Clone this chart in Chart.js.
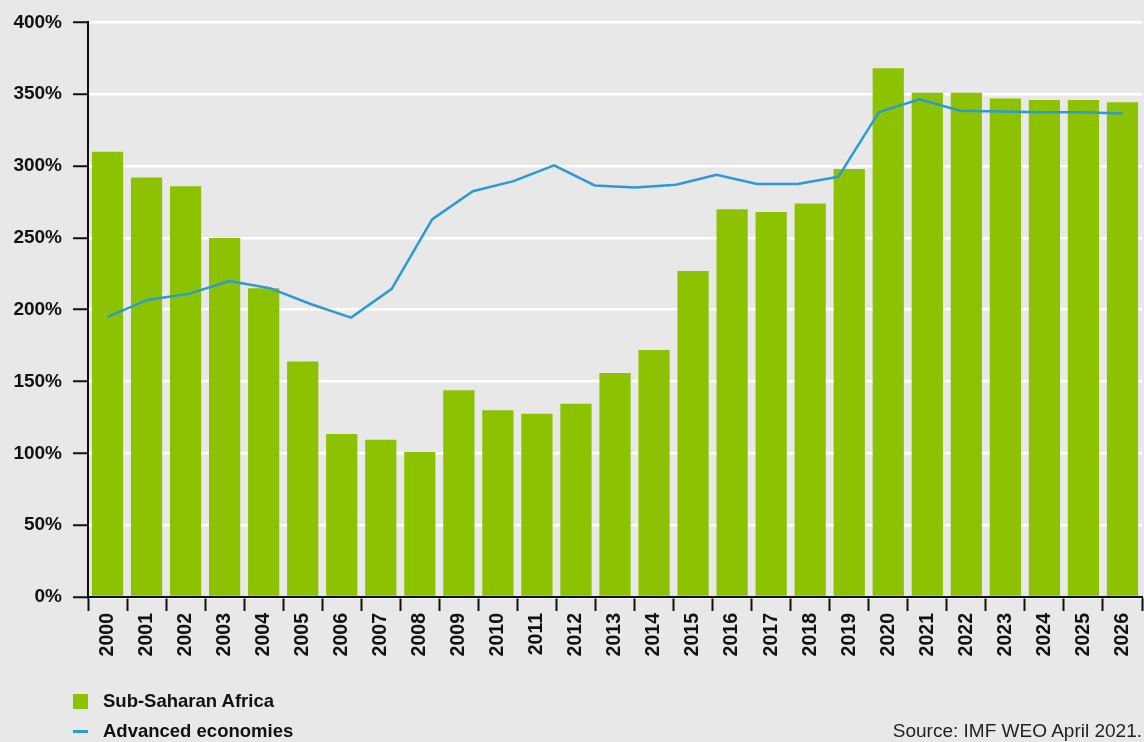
<!DOCTYPE html>
<html>
<head>
<meta charset="utf-8">
<script src="https://cdn.jsdelivr.net/npm/chart.js@4/dist/chart.umd.min.js"></script>
<style>
  html, body { margin: 0; padding: 0; background: #e8e8e8; }
  #wrap { position: relative; width: 1144px; height: 742px; background: #e8e8e8; overflow: hidden; }
  #c { position: absolute; left: 0; top: 0; }
  .leg { position: absolute; left: 73px; font-family: "Liberation Sans", sans-serif; font-weight: bold; font-size: 18.5px; color: #111; white-space: nowrap; }
  .leg .sw { position: absolute; left: 0; }
  .leg .tx { position: absolute; left: 30px; top: 0; line-height: 22px; }
  #src { position: absolute; right: 2px; top: 720px; font-family: "Liberation Sans", sans-serif; font-size: 19px; color: #222; line-height: 22px; white-space: nowrap; }
</style>
</head>
<body>
<div id="wrap">
  <canvas id="c" width="1144" height="742"></canvas>
  <div id="legend"></div>
  <div id="src">Source: IMF WEO April 2021.</div>
</div>
<script>
const years = ["2000","2001","2002","2003","2004","2005","2006","2007","2008","2009","2010","2011","2012","2013","2014","2015","2016","2017","2018","2019","2020","2021","2022","2023","2024","2025","2026"];
const ssaValues = [310, 292, 286, 250, 215, 164, 113.5, 109.5, 101, 144, 130, 127.5, 134.5, 156, 172, 227, 270, 268, 274, 298, 368, 351, 351, 347, 346, 346, 344.5];
const advValues = [195, 207, 211, 220, 215, 204, 194.5, 214.5, 263, 282.5, 289.5, 300.5, 286.5, 285, 287, 294, 287.5, 287.5, 292.5, 337.5, 346.5, 338.5, 338, 337.5, 337.5, 336.5];
const yTicks = [0, 50, 100, 150, 200, 250, 300, 350, 400];
const seriesNames = ["Sub-Saharan Africa", "Advanced economies"];
const GREEN = "#8cc200";
const BLUE = "#2b9ad5";

const n = advValues.length;
const half = 0.5 * (n - 1) / n;

const chart = new Chart(document.getElementById("c"), {
  data: {
    labels: years,
    datasets: [
      {
        type: "line",
        label: seriesNames[1],
        data: advValues.map((v, i) => ({ x: i, y: v })),
        xAxisID: "xl",
        yAxisID: "y",
        borderColor: BLUE,
        backgroundColor: BLUE,
        borderWidth: 2.5,
        pointRadius: 0,
        tension: 0,
        order: 0
      },
      {
        type: "bar",
        label: seriesNames[0],
        data: ssaValues,
        xAxisID: "x",
        yAxisID: "y",
        backgroundColor: GREEN,
        barPercentage: 0.8,
        categoryPercentage: 1.0,
        grouped: false,
        order: 1
      }
    ]
  },
  options: {
    responsive: false,
    animation: false,
    devicePixelRatio: 1,
    layout: { padding: { top: 20, right: 2, left: 0, bottom: 0 } },
    plugins: { legend: { display: false }, tooltip: { enabled: false } },
    scales: {
      x: {
        type: "category",
        offset: true,
        grid: { drawOnChartArea: false, offset: true, tickLength: 14, tickColor: "#111", tickWidth: 2 },
        border: { display: true, color: "#111", width: 2 },
        ticks: {
          minRotation: 90, maxRotation: 90, autoSkip: false, padding: 2,
          color: "#111",
          font: { family: "'Liberation Sans', sans-serif", weight: "bold", size: 19.5 }
        },
        afterFit: s => { s.height = 145; s.paddingRight = 0; s.paddingLeft = 0; }
      },
      xl: {
        type: "linear",
        display: false,
        min: -half,
        max: (n - 1) + half
      },
      y: {
        type: "linear",
        min: 0, max: 400,
        afterBuildTicks: s => { s.ticks = yTicks.map(v => ({ value: v })); },
        grid: { color: "#ffffff", lineWidth: 2.5, tickLength: 15, tickColor: "#111", tickWidth: 2 },
        border: { display: true, color: "#111", width: 2 },
        ticks: {
          padding: 11,
          color: "#111",
          font: { family: "'Liberation Sans', sans-serif", weight: "bold", size: 19 },
          callback: v => v + "%"
        },
        afterFit: s => { s.width = 88; }
      }
    }
  }
});

// HTML legend built from the chart datasets
const leg = document.getElementById("legend");
const items = [
  { name: chart.data.datasets[1].label, color: chart.data.datasets[1].backgroundColor, kind: "box", top: 690 },
  { name: chart.data.datasets[0].label, color: chart.data.datasets[0].borderColor, kind: "line", top: 720 }
];
items.forEach(it => {
  const d = document.createElement("div");
  d.className = "leg";
  d.style.top = it.top + "px";
  const sw = document.createElement("div");
  sw.className = "sw";
  sw.style.background = it.color;
  if (it.kind === "box") { sw.style.width = "15px"; sw.style.height = "15px"; sw.style.top = "4px"; }
  else { sw.style.width = "15px"; sw.style.height = "3px"; sw.style.top = "10px"; }
  const tx = document.createElement("div");
  tx.className = "tx";
  tx.textContent = it.name;
  d.appendChild(sw); d.appendChild(tx);
  leg.appendChild(d);
});
</script>
</body>
</html>
